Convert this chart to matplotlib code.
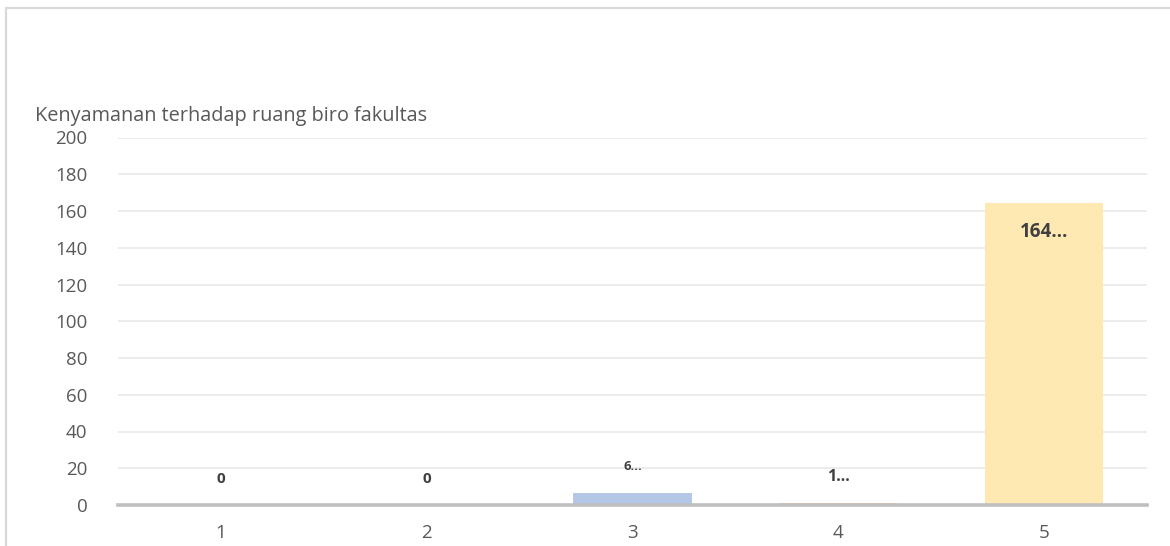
import matplotlib
matplotlib.use("Agg")
import matplotlib.pyplot as plt
from matplotlib.patches import Rectangle

plt.rcParams['font.family'] = ['Open Sans', 'DejaVu Sans']

categories = ["1", "2", "3", "4", "5"]
values = [0, 0, 6.5, 1.0, 164.4]
bar_labels = ["0", "0", "6…", "1…", "164…"]
label_sizes = [11, 11, 9.5, 11.5, 13.5]
bar_colors = ["#9DC3E6", "#F4B183", "#B4C7E7", "#F8CBAD", "#FFE9B3"]
yticks = list(range(0, 201, 20))
title = "Kenyamanan terhadap ruang biro fakultas"

W, H = 1170, 546
fig = plt.figure(figsize=(W / 100, H / 100), dpi=100)
fig.patch.set_facecolor("white")

# outer chart border (top and left visible)
fig.add_artist(Rectangle((6 / W, -0.2), 1.2, 1 - 8 / H + 0.2,
                         transform=fig.transFigure, fill=False,
                         edgecolor="#D9D9D9", linewidth=1.6))

ax = fig.add_axes([118 / W, 41 / H, (1147 - 118) / W, (505 - 137.5) / H])
x = list(range(len(categories)))
ax.bar(x, values, width=0.575, color=bar_colors, zorder=2)

ax.set_xlim(-0.5, len(categories) - 0.5)
ax.set_ylim(0, 200)
ax.set_yticks(yticks)
ax.set_xticks(x)
ax.set_xticklabels(categories)
ax.tick_params(axis="both", length=0, labelsize=13.5, labelcolor="#595959")
ax.tick_params(axis="y", pad=22)
ax.tick_params(axis="x", pad=14)
ax.grid(axis="y", color="#EBEBEB", linewidth=1.3, zorder=0)
ax.set_axisbelow(True)
for s in ["top", "right", "left"]:
    ax.spines[s].set_visible(False)
ax.spines["bottom"].set_color("#BFBFBF")
ax.spines["bottom"].set_linewidth(2.6)
ax.spines["bottom"].set_zorder(3)

for xi, v, lab, fs in zip(x, values, bar_labels, label_sizes):
    if v > 100:
        ax.annotate(lab, (xi, v), xytext=(0, -21), textcoords="offset points",
                    ha="center", va="center", fontsize=fs, fontweight="bold",
                    color="#404040")
    else:
        ax.annotate(lab, (xi, v), xytext=(0, 19), textcoords="offset points",
                    ha="center", va="center", fontsize=fs, fontweight="bold",
                    color="#404040")

fig.text(35 / W, 1 - 116 / H, title, ha="left", va="center",
         fontsize=14.3, color="#595959")

fig.savefig("out.png", dpi=100)
